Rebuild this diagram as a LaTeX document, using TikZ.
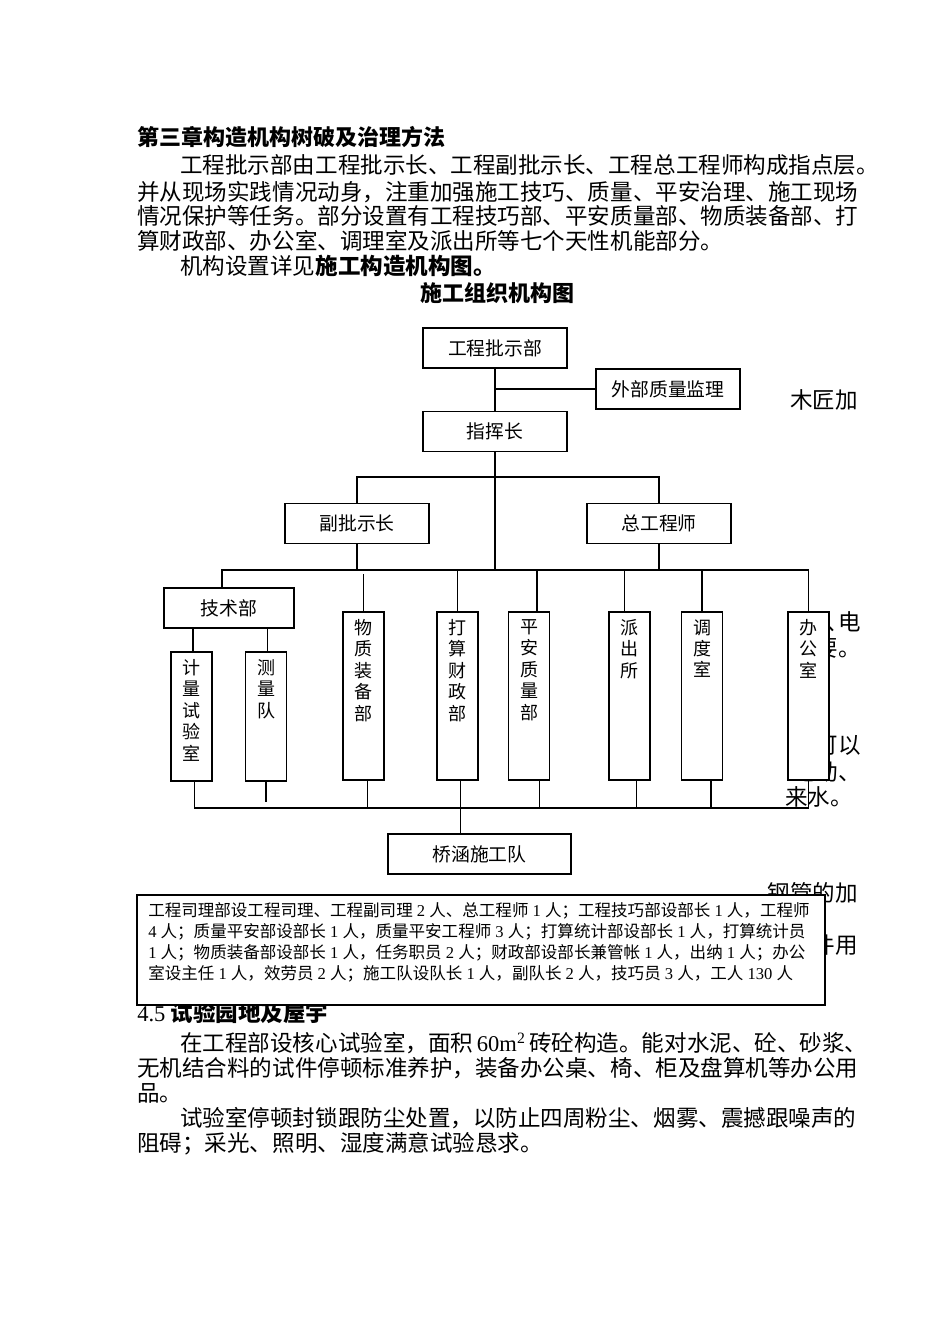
\documentclass[tikz,border=0pt]{standalone}
\usepackage{fontspec}
\setmainfont{Liberation Serif}
\newfontfamily\cjk{Noto Sans CJK SC}
\newcommand\sz[1]{{\rmfamily #1}}
\newcommand\vlab[2]{\parbox[c][#1][t]{30pt}{\centering\vspace*{5.5pt}#2}}
\tikzset{
  box/.style={draw, fill=white, line width=1pt, inner sep=0pt, minimum height=30pt, font=\cjk\fontsize{14.1}{17}\selectfont},
  vbox/.style={draw, fill=white, line width=1pt, inner sep=0pt, minimum width=30.75pt, font=\cjk\fontsize{13.5}{16.1}\selectfont},
  body/.style={anchor=base west, inner sep=0pt, font=\cjk\fontsize{16.9}{20}\selectfont},
  part/.style={anchor=base east, inner sep=0pt, font=\cjk\fontsize{16.9}{20}\selectfont},
  link/.style={line width=1pt},
}
\begin{document}
\begin{tikzpicture}[x=0.75pt, y=-0.75pt]
\useasboundingbox (0,0) rectangle (950,1344);
\fill[white] (0,0) rectangle (950,1344);

% text above the chart
\node[body, font=\cjk\bfseries\fontsize{16.5}{20}\selectfont] (h1) at (137,145.5) {第三章构造机构树破及治理方法};
\node[body] (p1) at (180,173.5) {工程批示部由工程批示长、工程副批示长、工程总工程师构成指点层。};
\node[body] (p2) at (137,200.5) {并从现场实践情况动身，注重加强施工技巧、质量、平安治理、施工现场};
\node[body] (p3) at (137,224.5) {情况保护等任务。部分设置有工程技巧部、平安质量部、物质装备部、打};
\node[body] (p4) at (137,249.5) {算财政部、办公室、调理室及派出所等七个天性机能部分。};
\node[body] (p5) at (180,274.5) {机构设置详见{\bfseries 施工构造机构图。}};
\node[body, anchor=base, font=\cjk\bfseries\fontsize{16.5}{20}\selectfont] (tt) at (497,301.5) {施工组织机构图};

% text that the chart hides
\node[part] (r1) at (858,408.5) {木匠加};
\node[part] (r2) at (861,630.5) {筋\kern8pt、\kern-8pt电};
\node[part] (r3) at (861,656.5) {需要。};
\node[part] (r4) at (861,753.5) {机可以};
\node[part] (r5) at (861,780.5) {地动、};
\node[body] (r6) at (785,805.5) {来水。};
\node[part] (r7) at (858,901.5) {钢管的加};
\node[part] (r8) at (858,953.5) {配件用};
\node[body] (h2) at (137,1021.5) {\sz{4.5} {\bfseries 试验园地及屋宇}};

% chart
\node[box, minimum width=108pt] (gc) at (495,348) {工程批示部};
\node[box, minimum width=108pt] (wb) at (668,389) {外部质量监理};
\node[box, minimum width=108pt] (zh) at (495,431.5) {指挥长};
\node[box, minimum width=108pt] (fz) at (357,523.5) {副批示长};
\node[box, minimum width=108pt] (zg) at (659,523.5) {总工程师};
\node[box, minimum width=97.5pt] (js) at (229,608) {技术部};
\node[vbox] (jl) at (191.5,716.5) {\vlab{96.75pt}{计\\量\\试\\验\\室}};
\node[vbox] (cl) at (266,716.5) {\vlab{96.75pt}{测\\量\\队}};
\node[vbox] (wz) at (363.5,696) {\vlab{126pt}{物\\质\\装\\备\\部}};
\node[vbox] (ds) at (457.5,696) {\vlab{126pt}{打\\算\\财\\政\\部}};
\node[vbox] (pa) at (529,696) {\vlab{126pt}{平\\安\\质\\量\\部}};
\node[vbox] (pc) at (629.5,696) {\vlab{126pt}{派\\出\\所}};
\node[vbox] (dd) at (702,696) {\vlab{126pt}{调\\度\\室}};
\node[vbox] (bg) at (808.5,696) {\vlab{126pt}{办\\公\\室}};
\node[box, minimum width=137.25pt] (qh) at (479.5,854) {桥涵施工队};

\coordinate (tb) at (495,477);
\coordinate (mid) at (495,570);
\coordinate (low) at (495,808);

\draw[link] (gc.south) -- (zh.north);
\draw[link] (wb.west) -- (wb.west -| gc.south);
\draw[link] (zh.south) -- (mid);
\draw[link] (fz.north) |- (tb) -| (zg.north);
\draw[link] (fz.south) -- (fz.south |- mid);
\draw[link] (zg.south) -- (zg.south |- mid);
\draw[link] ([xshift=-5.25pt]js.north) |- (mid) -| (bg.north);
\draw[link] ([xshift=-27pt]js.south) -- ([xshift=-27pt]js.south |- jl.north);
\draw[link] ([xshift=29pt]js.south) -- ([xshift=29pt]js.south |- cl.north);
\draw[link, shorten >=3pt] (wz.north) -- (wz.north |- mid);
\draw[link] (ds.north) -- (ds.north |- mid);
\draw[link] ([xshift=6pt]pa.north) -- ([xshift=6pt]pa.north |- mid);
\draw[link] ([xshift=-4pt]pc.north) -- ([xshift=-4pt]pc.north |- mid);
\draw[link] (dd.north) -- (dd.north |- mid);

\draw[link] ([xshift=2pt]jl.south) |- (low) -| (bg.south);
\draw[link] (cl.south) -- ++(0,20);
\draw[link] ([xshift=3pt]wz.south) -- ([xshift=3pt]wz.south |- low);
\draw[link] ([xshift=2pt]ds.south) -- ([xshift=2pt]ds.south |- qh.north);
\draw[link] ([xshift=8pt]pa.south) -- ([xshift=8pt]pa.south |- low);
\draw[link] ([xshift=5.25pt]pc.south) -- ([xshift=5.25pt]pc.south |- low);
\draw[link] ([xshift=6.75pt]dd.south) -- ([xshift=6.75pt]dd.south |- low);

% staff note
\node[draw, fill=white, line width=1pt, minimum width=516pt, minimum height=82.5pt] (bz) at (481,950) {};
\node[anchor=north west, align=left, inner sep=0pt, font=\cjk\fontsize{12.4}{15.9}\selectfont] (bzt) at (148,902) {工程司理部设工程司理、工程副司理\sz{ 2 }人、总工程师\sz{ 1 }人；工程技巧部设部长\sz{ 1 }人，工程师\\\sz{4 }人；质量平安部设部长\sz{ 1 }人，质量平安工程师\sz{ 3 }人；打算统计部设部长\sz{ 1 }人，打算统计员\\\sz{1 }人；物质装备部设部长\sz{ 1 }人，任务职员\sz{ 2 }人；财政部设部长兼管帐\sz{ 1 }人，出纳\sz{ 1 }人；办公\\室设主任\sz{ 1 }人，效劳员\sz{ 2 }人；施工队设队长\sz{ 1 }人，副队长\sz{ 2 }人，技巧员\sz{ 3 }人，工人\sz{ 130 }人};

% text below the chart
\node[body] (q1) at (180,1051.5) {在工程部设核心试验室，面积\,\sz{60m\textsuperscript{2}}\,砖砼构造。能对水泥、砼、砂浆、};
\node[body] (q2) at (137,1076.5) {无机结合料的试件停顿标准养护，装备办公桌、椅、柜及盘算机等办公用};
\node[body] (q3) at (137,1101.5) {品。};
\node[body] (q4) at (180,1126.5) {试验室停顿封锁跟防尘处置，以防止四周粉尘、烟雾、震撼跟噪声的};
\node[body] (q5) at (137,1151.5) {阻碍；采光、照明、湿度满意试验恳求。};
\end{tikzpicture}
\end{document}
